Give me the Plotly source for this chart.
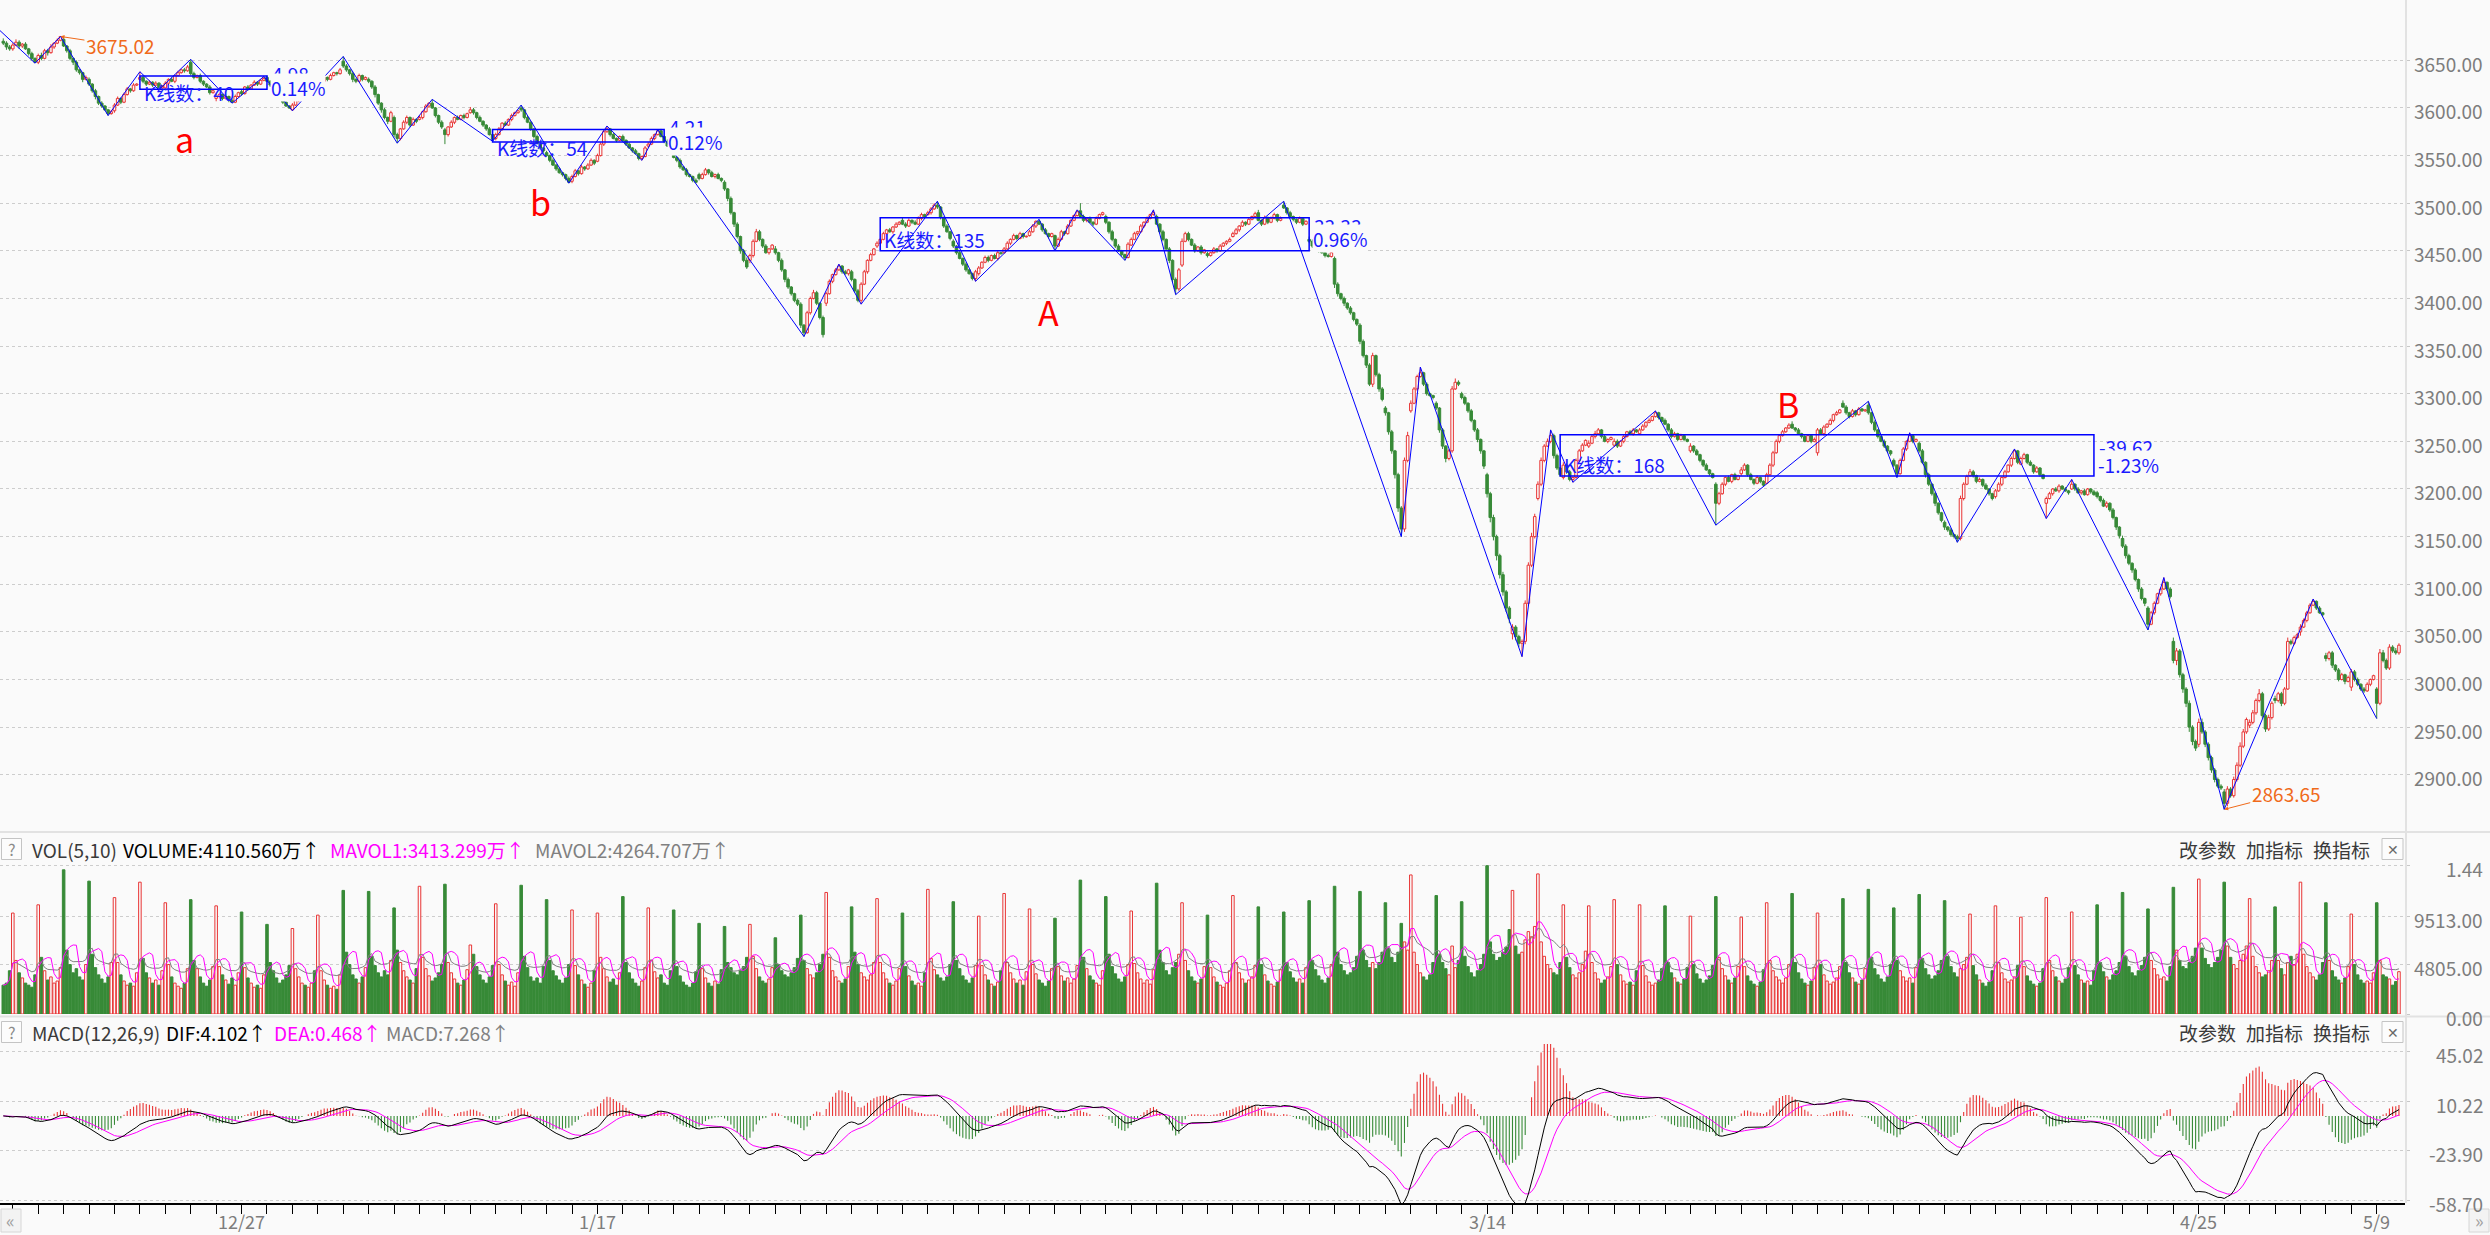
import numpy as np
import pandas as pd
import plotly.graph_objects as go

# ======================= DATA =======================
# 30-minute bars. Day 0 shows only its last 3 bars, every other day has 8 bars.
day_open = [
    3670, 3662, 3648, 3672, 3630, 3597, 3630, 3621, 3648, 3610,
    3617, 3632, 3598, 3620, 3649, 3630, 3590, 3588, 3577, 3595,
    3568, 3600, 3553, 3523, 3544, 3570, 3560, 3552, 3530, 3522,
    3440, 3452, 3394, 3395, 3428, 3455, 3482, 3488, 3460, 3426,
    3448, 3466, 3466, 3492, 3486, 3456, 3486, 3435, 3447, 3465,
    3490, 3498, 3462, 3442, 3372, 3285, 3282, 3290, 3300, 3215,
    3048, 3190, 3212, 3245, 3246, 3258, 3272, 3240, 3205, 3216,
    3206, 3268, 3238, 3290, 3288, 3230, 3248, 3165, 3214, 3192,
    3226, 3185, 3200, 3196, 3148, 3075, 3040, 2932, 2882, 2952,
    2980, 3050, 3025, 2992, 2990]

close = [
    3668, 3664, 3662,
    3666, 3669, 3665, 3667, 3662, 3657, 3652, 3648,
    3655, 3652, 3660, 3658, 3664, 3668, 3671, 3675,
    3665, 3660, 3652, 3648, 3640, 3637, 3630, 3632,
    3625, 3618, 3612, 3605, 3602, 3598, 3594, 3596,
    3603, 3610, 3606, 3614, 3620, 3618, 3624, 3625,
    3632, 3628, 3625, 3627, 3624, 3626, 3621, 3623,
    3626, 3630, 3628, 3634, 3637, 3640, 3639, 3643,
    3636, 3632, 3634, 3628, 3625, 3622, 3616, 3618,
    3612, 3614, 3610, 3612, 3608, 3606, 3612, 3616,
    3615, 3622, 3620, 3624, 3627, 3625, 3629, 3631,
    3628, 3624, 3620, 3614, 3610, 3606, 3602, 3600,
    3603, 3608, 3612, 3615, 3613, 3617, 3620, 3619,
    3624, 3628, 3632, 3630, 3634, 3637, 3636, 3640,
    3644, 3640, 3636, 3630, 3628, 3634, 3630, 3632,
    3628, 3622, 3614, 3605, 3598, 3590, 3586, 3595,
    3572, 3568, 3578, 3585, 3590, 3582, 3588, 3586,
    3590, 3596, 3602, 3605, 3600, 3592, 3585, 3580,
    3572, 3580, 3585, 3590, 3588, 3592, 3590, 3594,
    3598, 3595, 3590, 3586, 3582, 3578, 3572, 3567,
    3572, 3578, 3584, 3582, 3588, 3592, 3595, 3597,
    3598, 3590, 3585, 3578, 3570, 3563, 3558, 3555,
    3550, 3545, 3540, 3536, 3532, 3530, 3526, 3522,
    3528, 3534, 3531, 3538, 3536, 3540, 3545, 3542,
    3550, 3562, 3575, 3578, 3572, 3568, 3566, 3570,
    3566, 3562, 3558, 3555, 3552, 3547, 3549, 3558,
    3562, 3568, 3572, 3576, 3570, 3565, 3560, 3555,
    3548, 3545, 3538, 3535, 3530, 3528, 3524, 3522,
    3526, 3530, 3535, 3532, 3528, 3530, 3526, 3524,
    3515, 3505, 3490, 3478, 3465, 3450, 3440, 3433,
    3445, 3460, 3470, 3462, 3455, 3448, 3452, 3456,
    3448, 3440, 3430, 3420, 3412, 3405, 3398, 3394,
    3372, 3364, 3385, 3400, 3406, 3395, 3380, 3362,
    3405, 3418, 3425, 3430, 3434, 3428, 3426, 3430,
    3420, 3408, 3398, 3415, 3428, 3440, 3446, 3452,
    3458, 3462, 3468, 3472, 3470, 3475, 3478, 3480,
    3478, 3476, 3482, 3480, 3478, 3484, 3488, 3486,
    3490, 3494, 3498, 3496, 3485, 3476, 3470, 3463,
    3455, 3448, 3442, 3436, 3430, 3426, 3421, 3428,
    3432, 3438, 3443, 3440, 3445, 3442, 3448, 3447,
    3452, 3458, 3462, 3466, 3463, 3468, 3465, 3465,
    3470, 3476, 3481, 3478, 3472, 3468, 3465, 3468,
    3455, 3462, 3470, 3468, 3476, 3482, 3487, 3491,
    3486, 3482, 3484, 3480, 3478, 3484, 3488, 3490,
    3480, 3470, 3462, 3455, 3450, 3446, 3443, 3457,
    3462, 3468, 3470, 3476, 3480, 3484, 3488, 3490,
    3478, 3470, 3462, 3452, 3440, 3420, 3410, 3430,
    3460, 3468, 3462, 3456, 3450, 3454, 3448, 3451,
    3445, 3448, 3452, 3450, 3455, 3458, 3460, 3462,
    3468, 3472, 3476, 3480, 3478, 3483, 3486, 3489,
    3482, 3478, 3485, 3480, 3484, 3488, 3482, 3484,
    3495, 3490, 3486, 3483, 3480, 3484, 3478, 3481,
    3460, 3455, 3452, 3450, 3448, 3445, 3444, 3448,
    3415, 3405, 3400, 3395, 3390, 3385, 3378, 3373,
    3355, 3340, 3330, 3310, 3340, 3320, 3305, 3294,
    3280, 3260, 3240, 3215, 3180, 3158, 3230, 3256,
    3290, 3305, 3318, 3322, 3310, 3300, 3298, 3296,
    3285, 3262, 3245, 3232, 3240, 3305, 3312, 3310,
    3296, 3290, 3282, 3272, 3262, 3252, 3240, 3224,
    3195, 3170, 3150, 3130, 3110, 3092, 3075, 3064,
    3055, 3045, 3038, 3040, 3080, 3120, 3150, 3171,
    3205, 3230, 3245, 3250, 3256, 3235, 3222, 3215,
    3225, 3218, 3210, 3212, 3230, 3240, 3246, 3251,
    3248, 3255, 3258, 3262, 3255, 3250, 3252, 3254,
    3250, 3245, 3250, 3255, 3260, 3258, 3262, 3260,
    3262, 3266, 3270, 3272, 3276, 3280, 3275, 3271,
    3268, 3262, 3255, 3258, 3252, 3256, 3252, 3250,
    3245, 3240, 3236, 3230, 3225, 3220, 3216, 3212,
    3185, 3195, 3205, 3212, 3208, 3215, 3210, 3214,
    3220, 3225, 3215, 3210, 3206, 3212, 3208, 3204,
    3215, 3225, 3238, 3250, 3256, 3260, 3264, 3267,
    3264, 3262, 3258, 3255, 3250, 3256, 3250, 3252,
    3262, 3258, 3265, 3268, 3272, 3278, 3280, 3283,
    3286, 3280, 3276, 3282, 3278, 3284, 3282, 3283,
    3280, 3270, 3262, 3255, 3250, 3245, 3240, 3237,
    3225, 3216, 3230, 3242, 3250, 3256, 3250, 3252,
    3240, 3228, 3215, 3205, 3195, 3185, 3175, 3167,
    3160, 3157, 3152, 3150, 3148, 3190, 3205, 3213,
    3218, 3214, 3208, 3210, 3204, 3200, 3195, 3190,
    3198, 3205, 3212, 3218, 3225, 3232, 3240, 3228,
    3232, 3236, 3228, 3225, 3218, 3222, 3215, 3211,
    3190, 3195, 3200, 3198, 3203, 3200, 3198, 3196,
    3205, 3200, 3196, 3198, 3194, 3200, 3197, 3194,
    3192, 3188, 3182, 3185, 3178, 3170, 3160, 3151,
    3140, 3130, 3122, 3115, 3105, 3095, 3085, 3080,
    3058, 3070, 3080, 3090, 3095, 3102, 3095, 3087,
    3020, 3030, 3005, 2990, 2975, 2950, 2935, 2928,
    2955, 2945, 2932, 2918, 2905, 2895, 2888, 2886,
    2870, 2885, 2878, 2895, 2910, 2930, 2945, 2958,
    2955, 2965, 2978, 2985, 2962, 2948, 2960, 2975,
    2978, 2985, 2975, 2990, 3040, 3038, 3044, 3047,
    3055, 3062, 3070, 3078, 3082, 3075, 3070, 3068,
    3022, 3028, 3015, 3010, 3000, 3005, 2998, 3002,
    3008, 3000, 2995, 2990, 2988, 2995, 3000, 3004,
    2975, 3028, 3020, 3012, 3034, 3030, 3028, 3036]

wick_up = [
    3, 2, 2,
    2, 3, 2, 1, 2, 1, 2, 1,   2, 3, 2, 2, 3, 1, 2, 0,   2, 1, 2, 1, 2, 1, 1, 2,
    2, 1, 2, 1, 2, 1, 1, 2,   2, 2, 1, 2, 2, 1, 2, 1,   6, 2, 1, 2, 1, 2, 1, 1,
    2, 1, 2, 1, 2, 1, 2, 2,   3, 2, 1, 2, 1, 1, 2, 1,   3, 2, 1, 2, 1, 1, 2, 1,
    2, 1, 2, 1, 2, 1, 1, 2,   2, 1, 2, 1, 1, 2, 1, 1,   2, 2, 1, 2, 1, 1, 2, 1,
    2, 1, 2, 1, 2, 1, 1, 2,   5, 2, 1, 2, 1, 2, 1, 1,   2, 1, 2, 1, 1, 2, 1, 2,
    2, 2, 1, 2, 2, 1, 2, 1,   2, 1, 2, 1, 4, 1, 1, 2,   2, 1, 2, 1, 2, 1, 2, 1,
    3, 2, 1, 2, 1, 1, 2, 1,   2, 2, 1, 2, 1, 2, 1, 1,   3, 1, 2, 1, 1, 2, 1, 1,
    2, 1, 2, 1, 2, 1, 1, 2,   2, 2, 1, 2, 1, 2, 2, 1,   2, 2, 2, 3, 1, 2, 1, 1,
    2, 1, 2, 1, 2, 1, 1, 2,   2, 2, 1, 1, 2, 1, 2, 1,   2, 1, 2, 1, 2, 1, 1, 2,
    2, 2, 2, 1, 2, 1, 2, 1,   2, 1, 2, 1, 2, 1, 2, 3,   2, 2, 3, 2, 1, 2, 1, 1,
    3, 1, 2, 1, 2, 1, 1, 2,   2, 1, 2, 2, 3, 2, 1, 2,   2, 2, 1, 2, 2, 1, 2, 1,
    2, 1, 2, 2, 2, 1, 2, 1,   2, 1, 2, 1, 2, 1, 2, 1,   3, 2, 2, 1, 2, 2, 2, 1,
    2, 2, 2, 4, 1, 1, 2, 1,   2, 1, 2, 1, 2, 1, 1, 2,   2, 1, 2, 2, 1, 2, 2, 1,
    2, 2, 1, 2, 1, 2, 1, 1,   2, 2, 1, 2, 1, 2, 1, 1,   1, 2, 2, 1, 2, 1, 1, 2,
    8, 2, 1, 2, 1, 2, 1, 1,   2, 1, 2, 1, 2, 1, 1, 2,   2, 2, 1, 2, 1, 2, 1, 3,
    2, 1, 2, 1, 2, 1, 2, 2,   3, 2, 2, 1, 2, 1, 2, 1,   2, 1, 2, 1, 2, 1, 1, 2,
    2, 2, 1, 2, 1, 2, 1, 2,   3, 1, 2, 1, 2, 2, 1, 2,   4, 1, 2, 1, 1, 2, 1, 1,
    3, 2, 1, 2, 1, 1, 2, 1,   2, 2, 1, 2, 1, 2, 1, 1,   2, 2, 1, 2, 3, 1, 2, 2,
    2, 1, 2, 1, 2, 2, 3, 4,   3, 2, 2, 6, 1, 2, 1, 1,   2, 1, 2, 1, 2, 3, 4, 2,
    2, 2, 1, 2, 1, 2, 1, 1,   2, 2, 3, 2, 2, 3, 2, 2,   3, 2, 2, 2, 3, 3, 4, 3,
    3, 3, 2, 3, 6, 2, 2, 1,   3, 2, 2, 1, 2, 2, 2, 1,   3, 2, 3, 2, 1, 2, 1, 1,
    3, 2, 1, 2, 1, 2, 2, 1,   2, 2, 1, 2, 1, 2, 1, 1,   2, 1, 2, 2, 1, 2, 1, 1,
    3, 1, 2, 1, 1, 2, 1, 1,   2, 2, 2, 1, 2, 1, 2, 1,   3, 2, 1, 2, 1, 2, 1, 1,
    2, 2, 2, 2, 1, 2, 1, 2,   3, 1, 2, 1, 2, 1, 1, 2,   2, 2, 2, 1, 2, 1, 2, 1,
    3, 2, 1, 2, 1, 2, 1, 1,   4, 1, 2, 1, 1, 2, 1, 1,   2, 1, 2, 2, 1, 3, 1, 1,
    2, 2, 1, 2, 1, 2, 1, 1,   2, 1, 2, 1, 2, 3, 2, 2,   3, 2, 1, 2, 1, 2, 1, 1,
    2, 2, 1, 2, 1, 2, 2, 1,   2, 2, 1, 2, 1, 2, 1, 1,   2, 2, 1, 2, 2, 1, 2, 1,
    5, 1, 2, 1, 2, 1, 1, 2,   2, 1, 2, 2, 1, 2, 1, 1,   3, 2, 2, 1, 2, 1, 2, 1,
    2, 2, 2, 1, 2, 5, 1, 2,   4, 3, 2, 2, 2, 3, 2, 2,   4, 4, 2, 2, 2, 2, 2, 2,
    3, 3, 2, 3, 3, 4, 3, 2,   3, 3, 2, 5, 2, 2, 3, 2,   3, 2, 2, 2, 4, 2, 2, 2,
    3, 2, 2, 2, 2.5, 1, 2, 1, 3, 2, 2, 1, 2, 2, 1, 2,   3, 2, 2, 1, 2, 2, 1, 1,
    2, 4, 3, 2, 3, 2, 3, 2]

wick_dn = [
    2, 3, 2,
    2, 1, 3, 2, 1, 2, 2, 1,   2, 2, 1, 3, 1, 2, 1, 1,   1, 2, 2, 3, 2, 2, 3, 1,
    2, 2, 3, 2, 2, 1, 2, 1,   2, 1, 2, 1, 1, 2, 1, 1,   1, 2, 2, 1, 2, 1, 2, 1,
    1, 2, 1, 2, 1, 1, 2, 1,   2, 2, 1, 2, 2, 1, 2, 1,   3, 2, 2, 1, 2, 1, 1, 1,
    2, 1, 2, 1, 1, 2, 1, 1,   1, 2, 2, 2, 1, 2, 1, 1,   1, 1, 2, 1, 2, 1, 1, 1,
    1, 2, 1, 2, 1, 1, 2, 1,   2, 2, 2, 3, 2, 1, 2, 1,   2, 2, 3, 2, 3, 2, 3, 1,
    3, 5, 2, 1, 2, 2, 1, 2,   1, 2, 1, 2, 1, 2, 2, 2,   10, 2, 1, 2, 1, 1, 2, 1,
    1, 2, 2, 1, 2, 2, 1, 2,   2, 1, 2, 1, 1, 2, 1, 1,   2, 2, 1, 2, 2, 1, 2, 2,
    1, 2, 1, 2, 1, 2, 2, 1,   2, 1, 2, 1, 2, 1, 1, 2,   1, 1, 2, 1, 2, 1, 2, 1,
    1, 2, 1, 2, 1, 2, 2, 1,   2, 1, 2, 1, 1, 2, 1, 2,   1, 2, 2, 1, 2, 1, 2, 1,
    2, 1, 1, 2, 1, 2, 1, 2,   2, 3, 2, 3, 2, 3, 2, 2,   3, 2, 1, 2, 2, 1, 2, 1,
    2, 2, 2, 3, 2, 2, 2, 2,   3, 4, 1, 2, 1, 2, 2, 3,   3, 1, 2, 1, 1, 2, 1, 2,
    2, 2, 2, 4, 1, 2, 1, 1,   2, 1, 1, 2, 1, 2, 1, 1,   1, 2, 1, 2, 1, 1, 2, 1,
    1, 2, 1, 2, 2, 2, 1, 2,   2, 2, 1, 2, 2, 1, 2, 3,   2, 1, 1, 2, 1, 1, 2, 1,
    1, 1, 2, 1, 2, 1, 2, 1,   1, 1, 2, 1, 2, 1, 2, 1,   5, 1, 1, 2, 1, 1, 1, 1,
    1, 2, 2, 1, 2, 1, 1, 1,   2, 2, 2, 2, 1, 2, 3, 1,   1, 1, 2, 1, 2, 1, 1, 1,
    1, 2, 2, 2, 3, 3, 6, 2,   2, 1, 2, 1, 2, 1, 2, 1,   2, 1, 1, 2, 1, 1, 2, 1,
    1, 1, 2, 1, 2, 1, 1, 1,   1, 2, 1, 2, 1, 1, 2, 1,   1, 2, 1, 2, 2, 1, 2, 1,
    2, 2, 1, 2, 1, 2, 1, 1,   4, 3, 2, 3, 2, 2, 2, 2,   3, 2, 3, 2, 3, 2, 3, 2,
    3, 3, 3, 4, 4, 8, 3, 2,   2, 1, 2, 1, 2, 2, 1, 2,   2, 3, 3, 4, 2, 2, 1, 2,
    2, 2, 2, 2, 2, 3, 3, 3,   4, 5, 4, 5, 4, 4, 4, 5,   6, 4, 4, 14, 3, 3, 2, 2,
    2, 2, 2, 1, 2, 3, 2, 2,   2, 2, 2, 3, 1, 2, 1, 1,   2, 1, 2, 1, 2, 1, 2, 1,
    2, 2, 1, 2, 1, 1, 2, 1,   1, 1, 2, 1, 1, 1, 2, 1,   1, 2, 2, 1, 2, 1, 2, 1,
    2, 2, 1, 2, 2, 1, 2, 1,   23, 2, 1, 2, 1, 2, 1, 1,  2, 1, 2, 1, 2, 1, 2, 1,
    1, 1, 2, 1, 2, 1, 1, 1,   1, 2, 1, 2, 1, 1, 2, 1,   3, 1, 2, 1, 1, 2, 1, 1,
    1, 2, 2, 1, 2, 1, 1, 1,   2, 2, 2, 2, 1, 2, 2, 2,   2, 4, 1, 1, 2, 1, 2, 1,
    2, 2, 3, 2, 2, 3, 2, 2,   3, 2, 2, 2, 4, 2, 2, 1,   1, 2, 2, 1, 2, 1, 2, 2,
    2, 1, 2, 1, 1, 2, 1, 2,   1, 1, 2, 1, 2, 1, 2, 1,   16, 1, 2, 1, 2, 1, 1, 2,
    1, 2, 1, 2, 1, 1, 2, 1,   2, 2, 1, 2, 2, 2, 3, 3,   2, 3, 2, 3, 2, 3, 2, 3,
    6, 1, 2, 1, 2, 1, 2, 2,   3, 5, 3, 4, 4, 5, 4, 3,   3, 2, 3, 3, 3, 3, 2, 2,
    6.35, 3, 2, 2, 2, 2, 2, 2, 3, 2, 2, 2, 3, 3, 2, 2,  3, 2, 3, 2, 1, 2, 2, 1,
    4, 1, 2, 1, 1, 2, 1, 2,   3, 2, 3, 2, 2, 1, 3, 1,   4, 2, 2, 2, 2, 1, 2, 1,
    16, 2, 2, 2, 2, 2, 2, 2]

# volume per bar, in units of 1,000,000 (100万)
volume = [
    28, 30, 42,
    98, 52, 40, 35, 30, 28, 26, 38,     106, 55, 42, 33, 36, 30, 32, 45,
    140, 62, 48, 40, 44, 36, 33, 48,    129, 58, 45, 38, 34, 30, 36, 50,
    113, 50, 38, 32, 28, 30, 27, 40,    128, 54, 40, 35, 30, 33, 28, 42,
    108, 48, 36, 30, 27, 25, 30, 44,    111, 52, 44, 36, 30, 27, 33, 46,
    105, 46, 38, 33, 29, 35, 28, 40,    99, 45, 35, 30, 26, 28, 25, 38,
    87, 50, 42, 35, 30, 33, 38, 47,     83, 44, 36, 30, 28, 26, 30, 42,
    96, 42, 33, 28, 25, 27, 24, 38,     120, 60, 48, 38, 34, 30, 36, 45,
    119, 56, 47, 40, 36, 42, 38, 52,    103, 62, 50, 42, 36, 33, 30, 44,
    124, 55, 44, 37, 32, 35, 40, 48,    126, 50, 40, 34, 30, 28, 33, 43,
    67, 58, 46, 38, 33, 30, 36, 47,     107, 48, 38, 32, 28, 31, 27, 40,
    125, 56, 45, 36, 32, 35, 30, 46,    111, 52, 42, 37, 33, 30, 35, 48,
    101, 47, 38, 33, 29, 26, 30, 42,    98, 55, 44, 36, 31, 34, 28, 40,
    114, 50, 40, 34, 30, 27, 32, 45,    103, 52, 41, 35, 38, 30, 28, 42,
    101, 46, 37, 31, 28, 26, 30, 41,    88, 44, 35, 30, 27, 32, 29, 43,
    85, 50, 45, 40, 38, 42, 46, 55,     87, 56, 44, 36, 32, 30, 34, 45,
    74, 48, 42, 38, 36, 40, 45, 54,     96, 52, 44, 38, 35, 40, 48, 58,
    118, 55, 42, 36, 32, 30, 34, 46,    104, 60, 48, 40, 36, 33, 38, 50,
    112, 50, 40, 34, 30, 28, 32, 44,    98, 46, 37, 32, 28, 30, 27, 40,
    121, 54, 43, 38, 35, 32, 36, 48,    109, 52, 44, 37, 33, 30, 35, 47,
    95, 47, 38, 33, 29, 27, 31, 42,     117, 50, 40, 34, 30, 33, 28, 41,
    102, 48, 39, 33, 30, 27, 32, 44,    93, 46, 37, 32, 35, 30, 34, 47,
    130, 55, 44, 37, 33, 30, 28, 42,    114, 58, 46, 39, 34, 31, 36, 48,
    100, 49, 40, 34, 30, 33, 29, 43,    127, 62, 50, 42, 38, 45, 50, 58,
    108, 52, 42, 36, 32, 30, 34, 46,    96, 45, 36, 31, 28, 26, 30, 42,
    115, 50, 40, 34, 30, 33, 36, 47,    104, 48, 38, 32, 29, 27, 31, 43,
    99, 50, 41, 35, 31, 34, 30, 45,     110, 52, 43, 37, 33, 30, 35, 48,
    124, 60, 48, 42, 38, 40, 45, 56,    119, 62, 52, 45, 50, 44, 50, 60,
    108, 64, 55, 50, 60, 88, 70, 62,    135, 60, 48, 40, 36, 33, 38, 50,
    115, 58, 50, 44, 38, 66, 45, 52,    109, 56, 46, 40, 36, 42, 48, 58,
    144, 70, 58, 52, 55, 60, 65, 82,    120, 66, 58, 60, 72, 80, 75, 85,
    136, 70, 56, 48, 44, 40, 38, 50,    106, 55, 45, 38, 35, 40, 48, 61,
    105, 50, 40, 34, 30, 33, 36, 46,    111, 48, 38, 32, 29, 31, 28, 42,
    106, 47, 37, 31, 28, 30, 33, 44,    105, 50, 40, 35, 31, 29, 34, 45,
    95, 48, 39, 34, 30, 33, 37, 47,     114, 55, 44, 37, 33, 30, 35, 46,
    94, 46, 37, 32, 29, 27, 31, 43,     108, 52, 42, 36, 33, 30, 35, 48,
    117, 50, 40, 34, 30, 28, 32, 45,    98, 48, 38, 32, 29, 31, 35, 46,
    112, 50, 40, 35, 31, 29, 33, 44,    121, 55, 44, 38, 34, 31, 36, 48,
    103, 52, 42, 36, 32, 35, 30, 45,    116, 54, 44, 38, 34, 37, 42, 52,
    110, 56, 46, 40, 36, 44, 48, 55,    97, 47, 38, 33, 30, 27, 31, 42,
    105, 50, 40, 34, 31, 33, 36, 47,    94, 46, 37, 32, 29, 27, 30, 44,
    113, 52, 42, 36, 32, 30, 34, 45,    99, 47, 38, 33, 30, 32, 28, 42,
    106, 50, 41, 36, 33, 38, 42, 50,    118, 56, 46, 40, 37, 42, 47, 55,
    102, 52, 44, 38, 34, 36, 32, 46,    123, 62, 52, 46, 44, 50, 56, 64,
    131, 64, 54, 48, 45, 50, 55, 62,    128, 66, 55, 48, 44, 52, 58, 66,
    112, 56, 46, 40, 36, 38, 42, 52,    104, 52, 44, 38, 50, 56, 48, 58,
    128, 58, 46, 40, 36, 33, 38, 50,    108, 52, 42, 36, 33, 30, 35, 46,
    97, 48, 38, 33, 30, 32, 30, 40,     108, 52, 38, 36, 34, 28, 31.5, 41.1056]

# zig-zag pivots (bar index, price)
zz_j = [-10, 10, 18, 33, 43, 49, 59, 72, 82, 91, 107, 124, 135, 154, 163, 178, 190,
        201, 206, 252, 263, 270, 294, 306, 326, 331, 338, 353, 362, 369, 403, 440,
        446, 478, 487, 494, 520, 539, 587, 596, 600, 615, 633, 643, 651, 675, 680,
        699, 727, 747]
zz_p = [3709, 3647, 3675.02, 3592, 3638, 3619, 3651, 3605, 3633, 3597, 3654, 3563,
        3609, 3565, 3603, 3521, 3581, 3545, 3577, 3360, 3436, 3394, 3502, 3418, 3483,
        3450, 3493, 3440, 3493, 3404, 3502, 3150, 3328, 3024, 3262, 3207, 3282, 3162,
        3292, 3212, 3259, 3144, 3242, 3169, 3210, 3052, 3107, 2863.65, 3084.5, 2959]

# consolidation boxes
rect_j0 = [43, 154, 276, 490]
rect_count = [40, 54, 135, 168]
rect_lo = [3619.5, 3564.3, 3450.0, 3213.6]
rect_hi = [3633.5, 3577.3, 3484.8, 3257.0]
rect_chg = ["4.98", "4.21", "33.33", "-39.62"]
rect_pct = ["0.14%", "0.12%", "0.96%", "-1.23%"]
box_names = ["a", "b", "A", "B"]

extreme_text = ["3675.02", "2863.65"]
extreme_j = [18, 699]
extreme_p = [3675.02, 2863.65]

price_ticks = [2900, 2950, 3000, 3050, 3100, 3150, 3200, 3250, 3300, 3350, 3400,
               3450, 3500, 3550, 3600, 3650]
vol_tick_vals = [0, 48.05, 95.13, 144.0]
vol_tick_text = ["0.00", "4805.00", "9513.00", "1.44"]
macd_tick_vals = [-58.70, -23.90, 10.22, 45.02]
macd_tick_text = ["-58.70", "-23.90", "10.22", "45.02"]
date_label_day = [9, 23, 58, 86, 93]
date_label_text = ["12/27", "1/17", "3/14", "4/25", "5/9"]

vol_header = ["VOL(5,10)", "VOLUME:4110.560万↑", "MAVOL1:3413.299万↑", "MAVOL2:4264.707万↑"]
macd_header = ["MACD(12,26,9)", "DIF:4.102↑", "DEA:0.468↑", "MACD:7.268↑"]
tool_buttons = ["改参数", "加指标", "换指标"]

# ======================= BUILD =======================
W, H = 2490, 1235
BG = "#fafafa"
RED = "#e83535"
GREEN = "#378a37"
BLUE = "#0000ff"
TBLUE = "#1a1aff"
GRID = "#cdcdcd"
AXT = "#7d7d7d"
FONT = "Noto Sans CJK SC, Noto Sans, sans-serif"
XR = [-1.03, 755.9]
XDOM = [0, 2405 / W]
BODY_W = 0.8


def px(x):
    return x / W


def py(y):
    return 1 - y / H


n = min(len(close), len(wick_up), len(wick_dn), len(volume))
c = np.array(close[:n], float)
jj = np.arange(n)
o = np.empty(n)
o[1:] = c[:-1]
starts = [0] + [8 * k - 5 for k in range(1, len(day_open))]
for k, s in enumerate(starts):
    if s < n:
        o[s] = day_open[k]
top = np.maximum(o, c)
bot = np.minimum(o, c)
hi = top + np.array(wick_up[:n], float)
lo = bot - np.array(wick_dn[:n], float)
up = c >= o
hgt = top - bot
base = bot.copy()
small = hgt < 0.7
base[small] -= 0.35
hgt[small] = 0.7

vol = np.array(volume[:n], float)
ma5 = pd.Series(vol).rolling(5, min_periods=1).mean().values
ma10 = pd.Series(vol).rolling(10, min_periods=1).mean().values


def ema(a, span):
    out = np.empty_like(a)
    k = 2.0 / (span + 1)
    out[0] = a[0]
    for i in range(1, len(a)):
        out[i] = out[i - 1] + k * (a[i] - out[i - 1])
    return out


dif = ema(c, 12) - ema(c, 26)
dea = ema(dif, 9)
macd = 2 * (dif - dea)


def wick_segments(mask):
    xs, ys = [], []
    for i in np.where(mask)[0]:
        xs += [i, i, None, i, i, None]
        ys += [hi[i], top[i], None, bot[i], lo[i], None]
    return xs, ys


def stem_segments(vals, mask):
    xs, ys = [], []
    for i in np.where(mask)[0]:
        xs += [i, i, None]
        ys += [0, vals[i], None]
    return xs, ys


fig = go.Figure()

# ---- price pane
for mask, col in ((up, RED), (~up, GREEN)):
    xs, ys = wick_segments(mask)
    fig.add_trace(go.Scatter(x=xs, y=ys, mode="lines", line=dict(color=col, width=1),
                             hoverinfo="skip", xaxis="x", yaxis="y"))
fig.add_trace(go.Bar(x=jj, y=hgt, base=base, width=BODY_W,
                     marker=dict(color=np.where(up, BG, GREEN),
                                 line=dict(color=np.where(up, RED, GREEN), width=1)),
                     hoverinfo="skip", xaxis="x", yaxis="y"))
fig.add_trace(go.Scatter(x=zz_j, y=zz_p, mode="lines", line=dict(color=BLUE, width=1),
                         hoverinfo="skip", xaxis="x", yaxis="y"))

# ---- volume pane
fig.add_trace(go.Bar(x=jj, y=vol, width=BODY_W,
                     marker=dict(color=np.where(up, BG, GREEN),
                                 line=dict(color=np.where(up, RED, GREEN), width=1)),
                     hoverinfo="skip", xaxis="x2", yaxis="y2"))
fig.add_trace(go.Scatter(x=jj, y=ma10, mode="lines", line=dict(color="#808080", width=1),
                         hoverinfo="skip", xaxis="x2", yaxis="y2"))
fig.add_trace(go.Scatter(x=jj, y=ma5, mode="lines", line=dict(color="#ff00ff", width=1),
                         hoverinfo="skip", xaxis="x2", yaxis="y2"))

# ---- MACD pane
for mask, col in ((macd >= 0, RED), (macd < 0, GREEN)):
    xs, ys = stem_segments(macd, mask)
    fig.add_trace(go.Scatter(x=xs, y=ys, mode="lines", line=dict(color=col, width=1.1),
                             hoverinfo="skip", xaxis="x3", yaxis="y3"))
fig.add_trace(go.Scatter(x=jj, y=dea, mode="lines", line=dict(color="#ff00ff", width=1),
                         hoverinfo="skip", xaxis="x3", yaxis="y3"))
fig.add_trace(go.Scatter(x=jj, y=dif, mode="lines", line=dict(color="#000000", width=1),
                         hoverinfo="skip", xaxis="x3", yaxis="y3"))

# ---- axes
xbase = dict(range=XR, domain=XDOM, showgrid=False, zeroline=False, showticklabels=False,
             fixedrange=True)
tick_j = [3 + 8 * d for d in range(len(day_open) - 1)]
ybase = dict(side="right", showgrid=True, gridcolor=GRID, griddash="dot", gridwidth=1,
             zeroline=False, showticklabels=False, ticks="outside", ticklen=4,
             tickcolor="#c8c8c8", fixedrange=True, showline=False)

annotations = []
shapes = []


def text(x, y, s, color, size=19, xanchor="left", **kw):
    annotations.append(dict(x=px(x), y=py(y), xref="paper", yref="paper", text=s,
                            showarrow=False, xanchor=xanchor, yanchor="middle",
                            font=dict(family=FONT, size=size, color=color), **kw))


# axis value labels (right side)
for v in price_ticks:
    annotations.append(dict(x=px(2485), y=v, xref="paper", yref="y", text=f"{v:.2f}",
                            showarrow=False, xanchor="right", yanchor="middle", yshift=-3,
                            font=dict(family=FONT, size=19, color=AXT)))
for v, t in zip(vol_tick_vals, vol_tick_text):
    annotations.append(dict(x=px(2485), y=v, xref="paper", yref="y2", text=t,
                            showarrow=False, xanchor="right", yanchor="middle", yshift=-3,
                            font=dict(family=FONT, size=19, color=AXT)))
for v, t in zip(macd_tick_vals, macd_tick_text):
    annotations.append(dict(x=px(2485), y=v, xref="paper", yref="y3", text=t,
                            showarrow=False, xanchor="right", yanchor="middle", yshift=-3,
                            font=dict(family=FONT, size=19, color=AXT)))

# date labels
for d, t in zip(date_label_day, date_label_text):
    annotations.append(dict(x=3 + 8 * d, y=py(1221), xref="x3", yref="paper", text=t,
                            showarrow=False, xanchor="center", yanchor="middle",
                            borderpad=0, font=dict(family=FONT, size=18, color=AXT)))

# boxes and their labels
cnt_dy = [10, 11.5, 5.6, 9]
pct_dy = [5.3, 5.5, 4.6, 9]
for r in range(len(rect_j0)):
    j0 = rect_j0[r]
    j1 = rect_j0[r] + rect_count[r]
    mid = (rect_lo[r] + rect_hi[r]) / 2
    shapes.append(dict(type="rect", xref="x", yref="y", x0=j0, x1=j1, y0=rect_lo[r],
                       y1=rect_hi[r], line=dict(color=BLUE, width=1.5), layer="above"))
    annotations.append(dict(x=j0, y=mid, xref="x", yref="y", text=f"K线数：{rect_count[r]}",
                            showarrow=False, xanchor="left", yanchor="middle", xshift=2,
                            yshift=-cnt_dy[r], font=dict(family=FONT, size=19, color=TBLUE)))
    annotations.append(dict(x=j1, y=mid, xref="x", yref="y", text=rect_chg[r],
                            showarrow=False, xanchor="left", yanchor="middle", xshift=3,
                            yshift=9, font=dict(family=FONT, size=19, color=TBLUE)))
    annotations.append(dict(x=j1, y=mid, xref="x", yref="y", text=rect_pct[r],
                            showarrow=False, xanchor="left", yanchor="middle", xshift=3,
                            yshift=-pct_dy[r], bgcolor=BG, borderpad=0,
                            font=dict(family=FONT, size=19, color=TBLUE)))

# red letters
for (x, y), s in zip([(185, 138), (540, 202), (1048, 311), (1788, 403)], box_names):
    text(x, y, s, "#ff0000", size=34, xanchor="center")

# extreme price markers
for t, jx, p, (ax, ay) in zip(extreme_text, extreme_j, extreme_p, [(60, 9), (62, -16)]):
    annotations.append(dict(x=jx, y=p, xref="x", yref="y", text=t, showarrow=True,
                            ax=ax, ay=ay, arrowhead=2, arrowsize=0.8, arrowwidth=1,
                            arrowcolor="#f06a1a", standoff=0,
                            font=dict(family=FONT, size=19, color="#f06a1a")))

# pane headers
for yy in (849, 1032):
    shapes.append(dict(type="rect", xref="paper", yref="paper", x0=px(1.5), x1=px(21.5),
                       y0=py(yy + 10.5), y1=py(yy - 10.5), line=dict(color="#c4c4c4", width=1),
                       fillcolor="#fcfcfc"))
    text(11.5, yy, "?", "#8a8a8a", size=16, xanchor="center")
    shapes.append(dict(type="rect", xref="paper", yref="paper", x0=px(2382), x1=px(2403),
                       y0=py(yy + 10.5), y1=py(yy - 10.5), line=dict(color="#c4c4c4", width=1),
                       fillcolor="#fcfcfc"))
    text(2392.5, yy, "✕", "#6a6a6a", size=14, xanchor="center")
    for xb, s in zip([2177, 2244, 2311], tool_buttons):
        text(xb, yy, s, "#3a3a3a")

for xh, s, col in zip([30, 121, 328, 533], vol_header,
                      ["#3a3a3a", "#000000", "#ff00ff", "#808080"]):
    text(xh, 849, s, col)
for xh, s, col in zip([30, 164, 272, 384], macd_header,
                      ["#3a3a3a", "#000000", "#ff00ff", "#808080"]):
    text(xh, 1032, s, col)

# separators / frame
for yy in (832, 1016.5):
    shapes.append(dict(type="line", xref="paper", yref="paper", x0=0, x1=1, y0=py(yy),
                       y1=py(yy), line=dict(color="#e2e2e2", width=2)))
shapes.append(dict(type="line", xref="paper", yref="paper", x0=px(2406), x1=px(2406),
                   y0=py(0), y1=py(1203), line=dict(color="#e2e2e2", width=2)))

# scroll buttons
for x0, s in ((1, "«"), (2469, "»")):
    shapes.append(dict(type="rect", xref="paper", yref="paper", x0=px(x0), x1=px(x0 + 20),
                       y0=py(1232), y1=py(1209), line=dict(color="#d6d6d6", width=1),
                       fillcolor="#f3f3f3"))
    text(x0 + 10, 1220, s, "#a0a0a0", size=18, xanchor="center", borderpad=0)

fig.update_layout(
    width=W, height=H, margin=dict(l=0, r=0, t=0, b=0),
    paper_bgcolor=BG, plot_bgcolor=BG, showlegend=False, barmode="overlay",
    hovermode=False,
    xaxis=dict(**xbase, anchor="y"),
    xaxis2=dict(**xbase, anchor="y2"),
    xaxis3=dict(**xbase, anchor="y3", ticks="outside", tickvals=tick_j, ticklen=9,
                tickwidth=1, tickcolor="#000000", showline=True, linecolor="#000000",
                linewidth=1.5),
    yaxis=dict(**ybase, domain=[py(830), py(0)], range=[2842.0, 3713.3],
               tickvals=price_ticks, anchor="x"),
    yaxis2=dict(**ybase, domain=[py(1014), py(856)], range=[0, 153.4],
                tickvals=vol_tick_vals, anchor="x2"),
    yaxis3=dict(**ybase, domain=[py(1203), py(1044)], range=[-60.43, 49.88],
                tickvals=macd_tick_vals, anchor="x3"),
    annotations=annotations, shapes=shapes,
)

fig.write_html("out.html", config={"displayModeBar": False})
